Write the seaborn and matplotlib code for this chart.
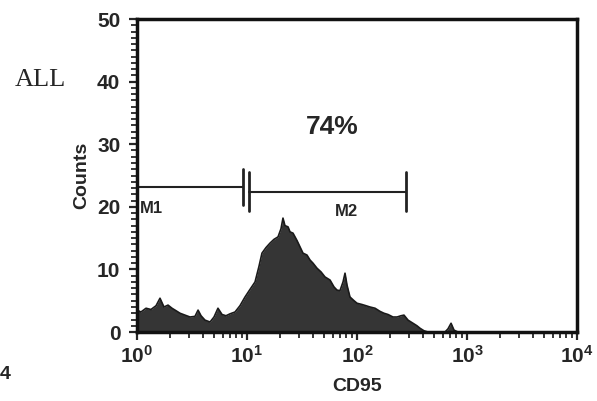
import numpy as np
import pandas as pd
import matplotlib
matplotlib.use("Agg")
import matplotlib.pyplot as plt
import seaborn as sns
from matplotlib.ticker import LogLocator, MultipleLocator

# ---- data ----
log_cd95 = [0.0, 0.036, 0.082, 0.127, 0.173, 0.209, 0.245, 0.282, 0.318, 0.355,
            0.391, 0.436, 0.482, 0.527, 0.555, 0.582, 0.618, 0.664, 0.70, 0.736,
            0.773, 0.809, 0.845, 0.891, 0.936, 0.982, 1.027, 1.073, 1.109, 1.136,
            1.173, 1.209, 1.245, 1.282, 1.309, 1.327, 1.345, 1.373, 1.391, 1.418,
            1.455, 1.482, 1.509, 1.545, 1.573, 1.60, 1.636, 1.673, 1.709, 1.755,
            1.791, 1.818, 1.845, 1.873, 1.891, 1.909, 1.936, 1.973, 2.0, 2.045,
            2.082, 2.118, 2.164, 2.209, 2.245, 2.282, 2.327, 2.364, 2.40, 2.427,
            2.464, 2.509, 2.545, 2.573, 2.609, 2.645, 2.80, 2.827, 2.855, 2.882,
            2.918, 4.0]
counts = [3.5, 3.2, 3.8, 3.6, 4.2, 5.4, 4.0, 4.3, 3.8, 3.4,
          3.0, 2.7, 2.4, 2.5, 3.5, 2.6, 1.9, 1.6, 2.4, 3.8,
          2.8, 2.6, 2.9, 3.2, 4.2, 5.6, 6.8, 8.0, 10.5, 12.6,
          13.5, 14.2, 14.8, 15.2, 16.5, 18.2, 17.0, 16.8, 16.0, 15.8,
          14.6, 13.6, 12.6, 12.3, 11.5, 11.0, 10.2, 9.6, 8.8, 8.3,
          7.2, 6.7, 6.6, 8.0, 9.4, 7.5, 5.6, 5.0, 4.6, 4.4,
          4.2, 4.0, 3.8, 3.3, 3.0, 2.8, 2.4, 2.4, 2.6, 2.7,
          1.9, 1.4, 1.0, 0.6, 0.2, 0.0, 0.0, 0.5, 1.4, 0.3,
          0.0, 0.0]
markers = ["M1", "M2"]
marker_start = [1.0, 10.4]
marker_end = [9.2, 279.0]
marker_level = [23.2, 22.4]
percent_text = "74%"

df = pd.DataFrame({"CD95": 10 ** np.array(log_cd95), "Counts": counts})

sns.set_style("ticks")
plt.rcParams["font.family"] = ["Liberation Sans", "DejaVu Sans"]
plt.rcParams["mathtext.fontset"] = "custom"
plt.rcParams["mathtext.rm"] = "Liberation Sans:bold"
plt.rcParams["mathtext.it"] = "Liberation Sans:bold"
plt.rcParams["mathtext.bf"] = "Liberation Sans:bold"

fig = plt.figure(figsize=(5.97, 4.01), dpi=100)
ax = fig.add_axes([0.2295, 0.172, 0.737, 0.7805])

sns.lineplot(data=df, x="CD95", y="Counts", ax=ax, color="#1a1a1a", lw=1.2)
ax.fill_between(df["CD95"], 0, df["Counts"], color="#353535", lw=0)

ax.set_xscale("log")
ax.set_xlim(1, 1e4)
ax.set_ylim(0, 50)

# markers
for name, s, e, lvl in zip(markers, marker_start, marker_end, marker_level):
    ax.plot([s, e], [lvl, lvl], color="#222222", lw=1.5)
    if name == "M1":
        ax.plot([e, e], [20.3, 26.0], color="#222222", lw=2.0)
        ax.text(1.06, 19.8, name, fontsize=12, fontweight="bold", va="center", ha="left")
    else:
        ax.plot([s, s], [19.4, 25.6], color="#222222", lw=2.0)
        ax.plot([e, e], [19.4, 25.6], color="#222222", lw=2.0)
        ax.text(79.4, 19.3, name, fontsize=12, fontweight="bold", va="center", ha="center")

ax.text(59, 32.7, percent_text, fontsize=19, fontweight="bold", ha="center", va="center")

ax.set_yticks([0, 10, 20, 30, 40, 50])
ax.yaxis.set_minor_locator(MultipleLocator(1))
ax.xaxis.set_major_locator(LogLocator(base=10, numticks=10))
ax.xaxis.set_minor_locator(LogLocator(base=10, subs=np.arange(2, 10), numticks=10))

ax.tick_params(axis="both", which="major", direction="out", length=6, width=1.6,
               labelsize=15)
ax.tick_params(axis="y", which="major", pad=6)
ax.tick_params(axis="x", which="major", pad=3)
ax.tick_params(axis="both", which="minor", direction="out", length=4, width=1.3)
for lab in ax.get_yticklabels() + ax.get_xticklabels():
    lab.set_fontweight("bold")

ax.set_xlabel("CD95", fontsize=14, fontweight="bold", labelpad=8)
ax.set_ylabel("Counts", fontsize=14, fontweight="bold", labelpad=5)

for sp in ax.spines.values():
    sp.set_visible(True)
    sp.set_linewidth(2.5)
    sp.set_color("#111111")

fig.text(0.067, 0.80, "ALL", fontsize=19, family="Liberation Serif", ha="center", va="center")
fig.text(0.0, 0.065, "4", fontsize=14, fontweight="bold", ha="left", va="center")

fig.savefig("out.png", dpi=100)
